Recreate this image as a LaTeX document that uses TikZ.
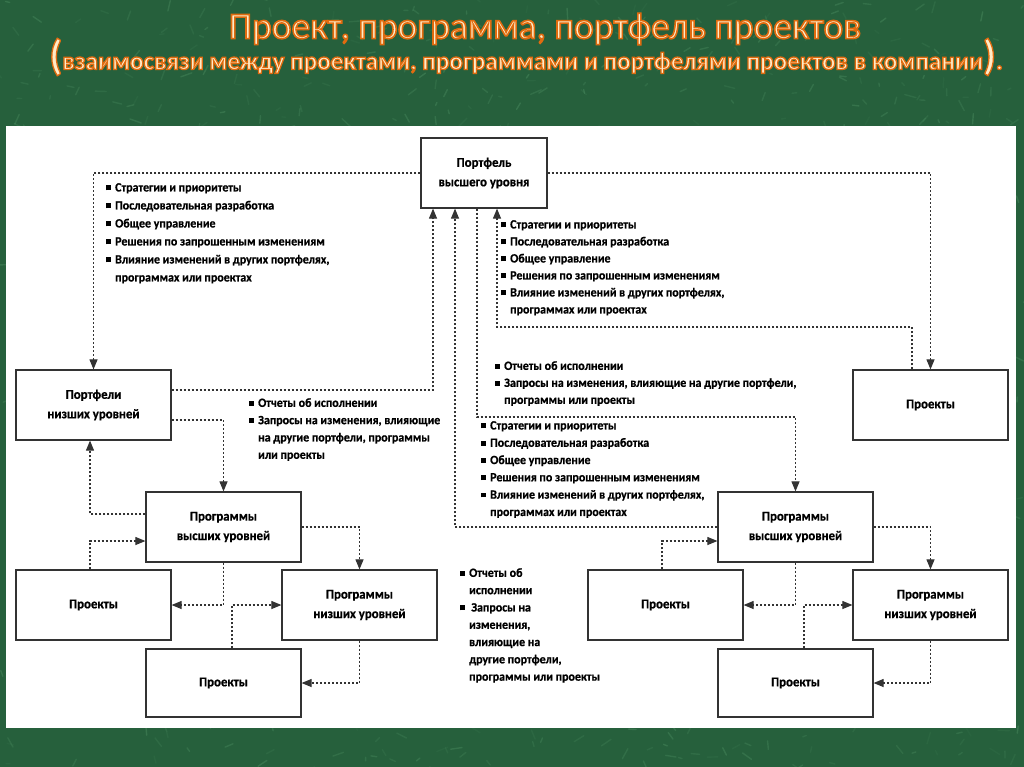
\documentclass[tikz,border=0pt]{standalone}
\usepackage{fontspec}
\setmainfont{Carlito}
\newfontfamily\dfont[FakeStretch=0.95, BoldFeatures={FakeBold=0.6}]{Carlito}
\usetikzlibrary{arrows.meta}
\definecolor{bg}{RGB}{38,96,60}
\definecolor{bglight}{RGB}{100,170,120}
\definecolor{titlefill}{RGB}{255,236,200}
\newcommand\sq{\makebox[9pt][l]{\rule[1.2pt]{4.8pt}{4.8pt}}}
\newcommand\ind{\hspace*{9pt}}
\newcommand\glow[2]{\special{pdf:literal direct 0.88 0.42 0.06 RG #1 w 2 Tr}#2\special{pdf:literal direct 0 Tr}}
\begin{document}
\begin{tikzpicture}[x=1pt,y=-1pt,
  box/.style={draw=black!80, line width=1.2pt, fill=white, minimum width=155pt, minimum height=70pt,
    align=center, inner sep=0pt, font=\dfont\bfseries\fontsize{13.5}{19.5}\selectfont},
  conn/.style={draw=black!80, line width=1.05pt, dash pattern=on 2pt off 2pt, -{Triangle[width=8pt,length=10pt]}},
  lst/.style={anchor=north west, align=left, inner sep=0pt, font=\dfont\bfseries\fontsize{12.6}{17.3}\selectfont},
  ttl/.style={inner sep=0pt, text=titlefill}
]
\useasboundingbox (0,0) rectangle (1024,767);
\fill[bg] (0,0) rectangle (1024,767);
% background texture (short light strokes)
\pgfmathsetseed{11}
\begin{scope}
\clip (0,0) rectangle (1024,767);
\foreach \i in {1,...,1400}{
  \pgfmathsetmacro{\px}{rnd*1024}
  \pgfmathsetmacro{\py}{rnd*767}
  \pgfmathsetmacro{\pl}{rnd*9+3}
  \pgfmathsetmacro{\pa}{rnd*360}
  \pgfmathsetmacro{\po}{rnd*0.22+0.06}
  \draw[bglight, opacity=\po, line width=1.4pt, line cap=round] (\px,\py) -- ++(\pa:\pl);
}
\end{scope}
\fill[white] (6,126) rectangle (1016,728);

% title
\node[ttl, font=\fontsize{37.5}{42}\selectfont] (title1) at (545,29) {\glow{1.6}{Проект, программа, портфель проектов}};
\node[ttl, font=\bfseries\fontsize{25.2}{30}\selectfont] (title2) at (526,57)
  {\glow{1.3}{{\fontsize{42}{42}\selectfont(}взаимосвязи между проектами, программами и портфелями проектов в компании{\fontsize{42}{42}\selectfont)}.}};

% boxes
\node[box, minimum width=126pt] (T) at (484,173) {Портфель\\высшего уровня};
\node[box] (PL) at (93.5,405) {Портфели\\низших уровней};
\node[box] (PR) at (930.5,405) {Проекты};
\node[box] (LH) at (223.5,527) {Программы\\высших уровней};
\node[box] (LP) at (93.5,605) {Проекты};
\node[box] (LL) at (359.5,605) {Программы\\низших уровней};
\node[box, minimum height=68pt] (LB) at (223.5,683) {Проекты};
\node[box] (RH) at (795.5,527) {Программы\\высших уровней};
\node[box] (RP) at (665.5,605) {Проекты};
\node[box] (RL) at (930.5,605) {Программы\\низших уровней};
\node[box, minimum height=68pt] (RB) at (795.5,683) {Проекты};

% helper coordinates
\coordinate (k1) at (640,417);
\coordinate (k2) at (700,327);

% top-level connectors
\draw[conn] (T.west) -| (PL.north);
\draw[conn] (T.east) -| (PR.north);
\draw[conn] ([yshift=15pt]PL.east) -| ([xshift=-51pt]T.south);
\draw[conn] (RH.west) -| ([xshift=-29pt]T.south);
\draw[conn] ([xshift=-7pt]T.south) |- (k1) -| (RH.north);
\draw[conn] ([xshift=-18.5pt]PR.north) |- (k2) -| ([xshift=13pt]T.south);
\draw[conn] ([yshift=-15pt]PL.east) -| (LH.north);
\draw[conn] ([yshift=13pt]LH.west) -| ([xshift=-3.5pt]PL.south);

% left cluster
\draw[conn] (LH.east) -| (LL.north);
\draw[conn] ([xshift=-3.5pt]LP.north) |- ([yshift=-14pt]LH.west);
\draw[conn] (LH.south) |- (LP.east);
\draw[conn] ([xshift=8.5pt]LB.north) |- (LL.west);
\draw[conn] (LL.south) |- (LB.east);

% right cluster
\draw[conn] (RH.east) -| (RL.north);
\draw[conn] ([xshift=-3.5pt]RP.north) |- ([yshift=-14pt]RH.west);
\draw[conn] (RH.south) |- (RP.east);
\draw[conn] ([xshift=8.5pt]RB.north) |- (RL.west);
\draw[conn] (RL.south) |- (RB.east);

% lists
\node[lst, font=\dfont\bfseries\fontsize{12.6}{18}\selectfont] (L1) at (106,183) {\sq Стратегии и приоритеты\\\sq Последовательная разработка\\\sq Общее управление\\\sq Решения по запрошенным изменениям\\\sq Влияние изменений в других портфелях,\\\ind программах или проектах};
\node[lst, font=\dfont\bfseries\fontsize{12.6}{17}\selectfont] (L2) at (501,220) {\sq Стратегии и приоритеты\\\sq Последовательная разработка\\\sq Общее управление\\\sq Решения по запрошенным изменениям\\\sq Влияние изменений в других портфелях,\\\ind программах или проектах};
\node[lst] (L3) at (249,398) {\sq Отчеты об исполнении\\\sq Запросы на изменения, влияющие\\\ind на другие портфели, программы\\\ind или проекты};
\node[lst, font=\dfont\bfseries\fontsize{12.6}{17}\selectfont] (L4) at (495,361) {\sq Отчеты об исполнении\\\sq Запросы на изменения, влияющие на другие портфели,\\\ind программы или проекты};
\node[lst] (L5) at (481,421) {\sq Стратегии и приоритеты\\\sq Последовательная разработка\\\sq Общее управление\\\sq Решения по запрошенным изменениям\\\sq Влияние изменений в других портфелях,\\\ind программах или проектах};
\node[lst] (L6) at (460,568) {\sq Отчеты об\\\ind исполнении\\\sq\,Запросы на\\\ind изменения,\\\ind влияющие на\\\ind другие портфели,\\\ind программы или проекты};
\end{tikzpicture}
\end{document}
